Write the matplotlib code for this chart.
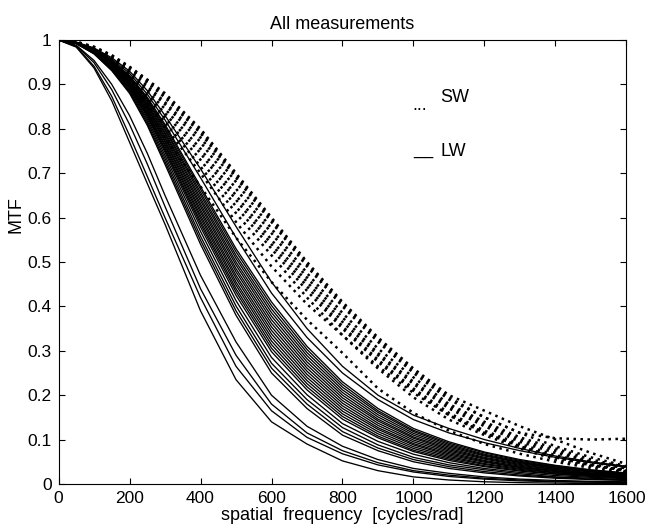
import matplotlib
matplotlib.use("Agg")
import matplotlib.pyplot as plt

plt.rcParams['font.family'] = ['Liberation Sans', 'DejaVu Sans']

# spatial frequency samples [cycles/rad]
freq = [0, 50, 100, 150, 200, 250, 300, 400, 500, 600, 700, 800, 900,
        1000, 1100, 1200, 1300, 1400, 1500, 1600]

# short wave (SW) measurements - dotted
sw_curves = [
    [1, .996, .985, .966, .94, .911, .88, .80, .70, .60, .50, .41, .33, .26, .20, .165, .13, .10, .07, .045],
    [1, .996, .984, .965, .938, .908, .875, .795, .695, .595, .495, .405, .325, .255, .195, .15, .115, .103, .10, .102],
    [1, .996, .983, .963, .935, .904, .87, .79, .69, .59, .49, .40, .32, .25, .19, .15, .115, .085, .06, .04],
    [1, .996, .981, .960, .93, .897, .86, .78, .68, .575, .475, .385, .305, .24, .18, .14, .105, .08, .055, .038],
    [1, .995, .98, .957, .925, .891, .855, .77, .665, .565, .465, .375, .295, .23, .175, .135, .10, .075, .05, .035],
    [1, .995, .979, .954, .92, .884, .845, .755, .65, .55, .455, .365, .29, .225, .17, .13, .095, .07, .05, .035],
    [1, .995, .978, .951, .915, .876, .835, .745, .64, .54, .445, .355, .28, .215, .16, .12, .09, .065, .045, .032],
    [1, .994, .977, .948, .91, .869, .825, .73, .625, .53, .435, .35, .275, .21, .155, .115, .085, .06, .042, .03],
    [1, .994, .975, .945, .905, .862, .815, .715, .61, .515, .42, .335, .26, .195, .145, .11, .08, .055, .04, .028],
    [1, .994, .974, .944, .905, .858, .805, .70, .59, .49, .405, .335, .265, .205, .155, .115, .085, .06, .043, .03],
    [1, .993, .972, .940, .895, .841, .78, .67, .555, .455, .37, .295, .215, .16, .12, .09, .068, .05, .036, .026],
]

# long wave (LW) measurements - solid
lw_curves = [
    [1, .995, .982, .960, .93, .886, .83, .71, .58, .455, .35, .265, .20, .155, .125, .10, .08, .063, .05, .04],
    [1, .995, .981, .957, .925, .878, .82, .69, .555, .43, .33, .25, .19, .145, .115, .093, .075, .06, .048, .038],
    [1, .995, .979, .954, .92, .871, .81, .67, .53, .41, .31, .23, .17, .125, .095, .072, .055, .042, .032, .025],
    [1, .994, .979, .953, .918, .868, .806, .664, .523, .402, .303, .224, .165, .121, .092, .07, .053, .041, .031, .024],
    [1, .994, .978, .952, .916, .865, .801, .657, .515, .394, .296, .218, .161, .118, .089, .067, .051, .039, .03, .023],
    [1, .994, .978, .951, .914, .862, .797, .651, .508, .386, .289, .212, .156, .114, .086, .065, .049, .038, .029, .022],
    [1, .994, .977, .950, .912, .858, .792, .644, .50, .378, .282, .206, .151, .11, .083, .063, .048, .036, .028, .022],
    [1, .994, .977, .948, .91, .855, .788, .638, .493, .37, .275, .20, .146, .106, .08, .06, .046, .035, .027, .021],
    [1, .994, .976, .947, .908, .852, .783, .631, .485, .362, .268, .194, .142, .103, .077, .058, .044, .033, .025, .02],
    [1, .994, .976, .946, .906, .849, .779, .625, .478, .354, .261, .188, .137, .099, .074, .056, .042, .032, .024, .019],
    [1, .994, .975, .945, .904, .846, .774, .618, .47, .346, .254, .182, .132, .095, .071, .053, .04, .03, .023, .018],
    [1, .994, .975, .944, .902, .843, .77, .612, .463, .338, .247, .176, .127, .091, .068, .051, .038, .029, .022, .017],
    [1, .993, .974, .942, .90, .839, .765, .605, .455, .33, .24, .17, .123, .088, .065, .049, .037, .028, .021, .017],
    [1, .993, .973, .941, .898, .836, .761, .599, .448, .322, .233, .164, .118, .084, .062, .046, .035, .026, .02, .016],
    [1, .993, .973, .940, .896, .833, .756, .592, .44, .314, .226, .158, .113, .08, .059, .044, .033, .025, .019, .015],
    [1, .993, .972, .939, .894, .830, .752, .586, .433, .306, .219, .152, .108, .076, .056, .041, .031, .023, .018, .014],
    [1, .993, .972, .938, .892, .827, .747, .579, .425, .298, .212, .146, .104, .073, .053, .039, .029, .022, .017, .013],
    [1, .993, .971, .936, .889, .822, .74, .569, .413, .285, .201, .136, .096, .067, .048, .035, .026, .019, .015, .012],
    [1, .992, .970, .934, .886, .817, .733, .558, .401, .272, .19, .127, .088, .06, .043, .032, .023, .016, .013, .01],
    [1, .992, .969, .932, .883, .812, .726, .549, .39, .261, .18, .118, .081, .055, .039, .028, .02, .015, .011, .009],
    [1, .992, .969, .931, .88, .808, .72, .54, .38, .25, .17, .11, .075, .05, .035, .025, .018, .013, .01, .008],
    [1, .988, .954, .900, .83, .745, .65, .47, .32, .20, .13, .085, .055, .035, .024, .016, .011, .008, .006, .005],
    [1, .987, .949, .888, .81, .721, .625, .44, .29, .18, .115, .075, .048, .03, .02, .013, .009, .006, .005, .004],
    [1, .985, .941, .873, .785, .693, .60, .42, .265, .165, .105, .068, .043, .027, .017, .011, .007, .005, .004, .003],
    [1, .984, .937, .863, .77, .677, .585, .39, .235, .14, .09, .052, .03, .016, .009, .005, .003, .002, .001, .001],
]

fig = plt.figure(figsize=(6.53, 5.27), dpi=100)
ax = fig.add_axes([0.0896, 0.0816, 0.8698, 0.8425])

for c in lw_curves:
    ax.plot(freq, c, color='black', lw=0.95)
for c in sw_curves:
    ax.plot(freq, c, color='black', lw=1.8, linestyle=(0, (1.0, 1.8)))

ax.text(998, 0.842, '...', fontsize=13, va='baseline')
ax.text(1075, 0.86, 'SW', fontsize=13, va='baseline')
ax.text(998, 0.744, '__', fontsize=13, va='baseline')
ax.text(1075, 0.739, 'LW', fontsize=13, va='baseline')

ax.set_xlim(0, 1600)
ax.set_ylim(0, 1)
ax.set_xticks([0, 200, 400, 600, 800, 1000, 1200, 1400, 1600])
ax.set_yticks([0, .1, .2, .3, .4, .5, .6, .7, .8, .9, 1])
ax.set_yticklabels(['0', '0.1', '0.2', '0.3', '0.4', '0.5', '0.6', '0.7', '0.8', '0.9', '1'])
ax.tick_params(direction='in', top=True, right=True, length=4, width=0.8,
               labelsize=12.5, pad=5)
for s in ax.spines.values():
    s.set_linewidth(0.8)

ax.set_title('All measurements', fontsize=13, pad=8)
ax.set_xlabel('spatial  frequency  [cycles/rad]', fontsize=13, labelpad=1)
ax.set_ylabel('MTF', fontsize=13)
ax.yaxis.set_label_coords(-0.06, 0.606)

fig.savefig('out.png', dpi=100)
